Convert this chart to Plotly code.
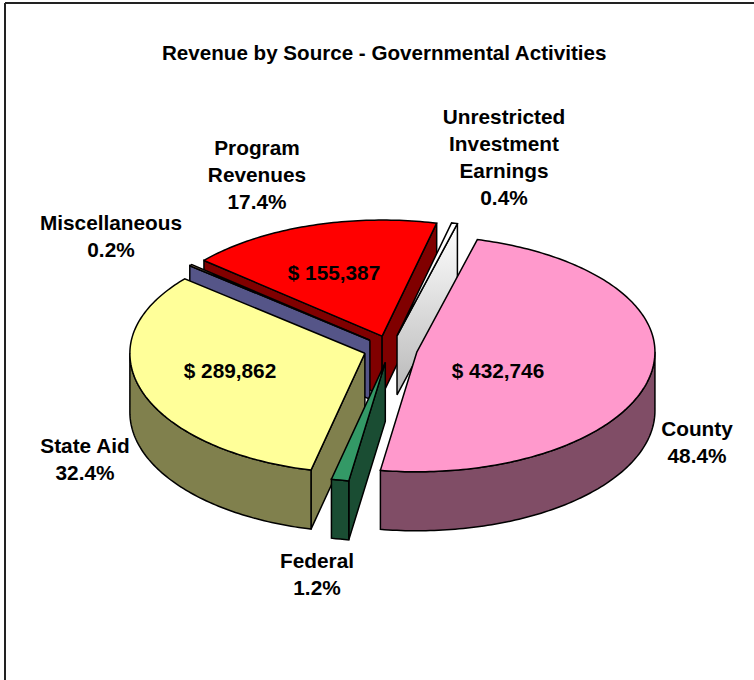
import numpy as np
import plotly.graph_objects as go

# Revenue by source, clockwise from the first slice
sources = ["County", "Federal", "State Aid", "Miscellaneous", "Program Revenues", "Unrestricted Investment Earnings"]
revenue = [432746, 10700, 289862, 1800, 155387, 3600]

top_colors = ["#FF99CC", "#339966", "#FFFF99", "#FFCC99", "#FF0000", "#FFFFFF"]
side_colors = ["#804D66", "#1A4D33", "#80804D", "#555588", "#800000", "#D8D8D8"]

# Painter's order for the exploded slices, back to front
draw_order = [4, 3, 5, 2, 0, 1]

# Pie projection, in page pixels; the far half and left side are slightly foreshortened
CENTER_X, CENTER_Y = 390.5, 349.0
RADIUS_RIGHT, RADIUS_LEFT = 238.0, 235.0
RADIUS_BACK, RADIUS_FRONT = 116.0, 120.0
DEPTH = 59.0
EXPLODE_X, EXPLODE_Y = 27.0, 13.6
START_ANGLE = 14.7

title_text = "Revenue by Source - Governmental Activities"
FONT = "Liberation Sans, Arial, sans-serif"
TITLE_SIZE = 20.6
TEXT_SIZE = 20.8

# Category labels: anchor of the block centre and its text rows (the last row is the share)
label_rows = {
    0: (697, 444, ["County"]),
    1: (317, 576.5, ["Federal"]),
    2: (85, 461.5, ["State Aid"]),
    3: (111, 238, ["Miscellaneous"]),
    4: (257, 176.5, ["Program", "Revenues"]),
    5: (504, 159.5, ["Unrestricted", "Investment", "Earnings"]),
}
LINE_GAP = 27
# Dollar amounts printed on the three large slices
amount_anchor = {4: (334, 274.5), 2: (230, 372.5), 0: (498, 372.5)}

total = sum(revenue)
spans = [v / total * 360 for v in revenue]
starts = START_ANGLE + np.concatenate(([0], np.cumsum(spans)[:-1]))


def rim(apex, angles):
    rad = np.radians(angles)
    s, c = np.sin(rad), np.cos(rad)
    return (apex[0] + np.where(s >= 0, RADIUS_RIGHT, RADIUS_LEFT) * s,
            apex[1] - np.where(c >= 0, RADIUS_BACK, RADIUS_FRONT) * c)


def face(xs, ys, color, **extra):
    return go.Scatter(x=list(xs), y=list(ys), mode="lines", fill="toself", fillcolor=color,
                      line=dict(color="black", width=1.5, simplify=False),
                      hoverinfo="skip", showlegend=False, **extra)


fig = go.Figure()

for i in draw_order:
    a0, a1 = starts[i], starts[i] + spans[i]
    mid = np.radians((a0 + a1) / 2)
    apex = (CENTER_X + EXPLODE_X * np.sin(mid), CENTER_Y - EXPLODE_Y * np.cos(mid))
    side = side_colors[i]

    # Radial walls: only those turned towards the viewer are drawn
    for edge, normal in ((a0, a0 - 90), (a1, a1 + 90)):
        if np.cos(np.radians(normal)) < 0:
            ex, ey = rim(apex, np.array([edge]))
            xs = [apex[0], ex[0], ex[0], apex[0], apex[0]]
            ys = [apex[1], ey[0], ey[0] + DEPTH, apex[1] + DEPTH, apex[1]]
            if i == 5:
                # Investment earnings wall fades from white to grey
                fig.add_trace(face(xs, ys, side, fillgradient=dict(
                    type="vertical",
                    colorscale=[[0, "#FFFFFF"], [1, "#B8B8B8"]],
                    start=min(ys), stop=max(ys))))
            else:
                fig.add_trace(face(xs, ys, side))

    # Outer rim wall on the front half of the pie
    lo, hi = max(a0, 90), min(a1, 270)
    if hi > lo:
        arc = np.linspace(lo, hi, max(int(hi - lo), 2) + 1)
        rx, ry = rim(apex, arc)
        fig.add_trace(face(np.r_[rx, rx[::-1], rx[0]], np.r_[ry, ry[::-1] + DEPTH, ry[0]], side))

    # Top surface of the slice
    arc = np.linspace(a0, a1, max(int(a1 - a0), 2) + 1)
    rx, ry = rim(apex, arc)
    fig.add_trace(face(np.r_[apex[0], rx, apex[0]], np.r_[apex[1], ry, apex[1]], top_colors[i]))

# Text rows for the category labels and percentages
text_x, text_y, text_s = [], [], []
for i, (lx, ly, rows) in label_rows.items():
    rows = rows + [f"{revenue[i] / total * 100:.1f}%"]
    for k, row in enumerate(rows):
        text_x.append(lx)
        text_y.append(ly + LINE_GAP * (k - (len(rows) - 1) / 2))
        text_s.append(row)
for i, (lx, ly) in amount_anchor.items():
    text_x.append(lx)
    text_y.append(ly)
    text_s.append(f"$ {revenue[i]:,}")

fig.add_trace(go.Scatter(x=text_x, y=text_y, text=text_s, mode="text", textposition="middle center",
                         textfont=dict(family=FONT, size=TEXT_SIZE, color="black", weight="bold"),
                         hoverinfo="skip", showlegend=False))

fig.update_layout(
    width=754, height=680, margin=dict(l=0, r=0, t=0, b=0),
    paper_bgcolor="white", plot_bgcolor="white", showlegend=False,
    xaxis=dict(range=[0, 754], visible=False, fixedrange=True),
    yaxis=dict(range=[680, 0], visible=False, fixedrange=True),
    annotations=[dict(x=383.5, y=52.5, xref="x", yref="y", text=f"<b>{title_text}</b>", showarrow=False,
                      font=dict(family=FONT, size=TITLE_SIZE, color="black"))],
    shapes=[
        dict(type="line", xref="x", yref="y", x0=5, x1=5, y0=3, y1=680, line=dict(color="#222222", width=2)),
        dict(type="line", xref="x", yref="y", x0=5, x1=754, y0=3, y1=3, line=dict(color="#222222", width=2)),
    ],
)

fig.write_html("out.html", config={"displayModeBar": False})
